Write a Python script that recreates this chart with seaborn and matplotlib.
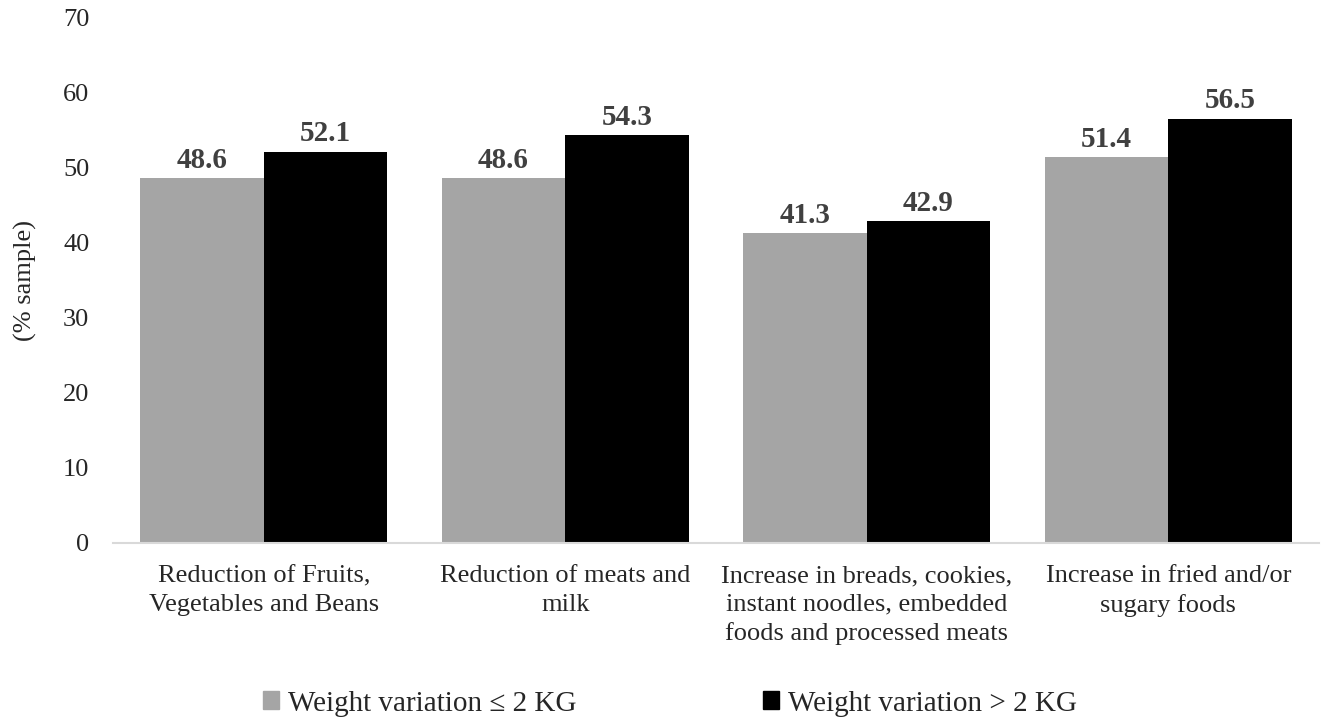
import numpy as np
import pandas as pd
import matplotlib
matplotlib.use("Agg")
import matplotlib.pyplot as plt
import seaborn as sns
from matplotlib.patches import Patch

categories = ["Reduction of Fruits,\nVegetables and Beans",
              "Reduction of meats and\nmilk",
              "Increase in breads, cookies,\ninstant noodles, embedded\nfoods and processed meats",
              "Increase in fried and/or\nsugary foods"]
groups = ["Weight variation \u2264 2 KG", "Weight variation > 2 KG"]
low_vals = [48.6, 48.6, 41.3, 51.4]
high_vals = [52.1, 54.3, 42.9, 56.5]
colors = ["#a5a5a5", "#000000"]

df = pd.DataFrame({
    "category": categories * 2,
    "group": [groups[0]] * 4 + [groups[1]] * 4,
    "value": low_vals + high_vals,
})

sns.set_style("white")
plt.rcParams['font.family'] = ['Liberation Serif', 'DejaVu Serif']

fig = plt.figure(figsize=(13.21, 7.17), dpi=100)
ax = fig.add_axes([0.0855, 0.2427, 0.913, 0.7333])

sns.barplot(data=df, x="category", y="value", hue="group", palette=colors,
            width=0.82, gap=0, saturation=1, legend=False, linewidth=0, ax=ax)

for c in ax.containers:
    ax.bar_label(c, fmt="%.1f", fontsize=21, fontweight="bold", color="#404040", padding=3)

ax.set_ylim(0, 70)
ax.set_yticks(range(0, 71, 10))
ax.set_xlim(-0.5, 3.5)
ax.set_xlabel("")
ax.set_ylabel("(% sample)", fontsize=19, labelpad=19)
ax.tick_params(axis="y", length=0, labelsize=19, pad=17)
ax.tick_params(axis="x", which="major", length=0, labelsize=19, pad=16)
for t in ax.get_xticklabels():
    t.set_linespacing(1.38)
ax.set_xticks(np.arange(-0.5, 4, 1), minor=True)
ax.tick_params(axis="x", which="minor", length=7, width=1.5, color="#d9d9d9")

for s in ["top", "right", "left"]:
    ax.spines[s].set_visible(False)
ax.spines["bottom"].set_color("#d9d9d9")
ax.spines["bottom"].set_linewidth(1.5)

handles = [Patch(color=colors[0]), Patch(color=colors[1])]
fig.legend(handles, groups, loc="lower center", bbox_to_anchor=(0.507, -0.036), ncol=2,
           frameon=False, fontsize=21, handlelength=0.55, handleheight=0.55,
           handletextpad=0.3, columnspacing=6.4)

fig.savefig("out.png", dpi=100)
